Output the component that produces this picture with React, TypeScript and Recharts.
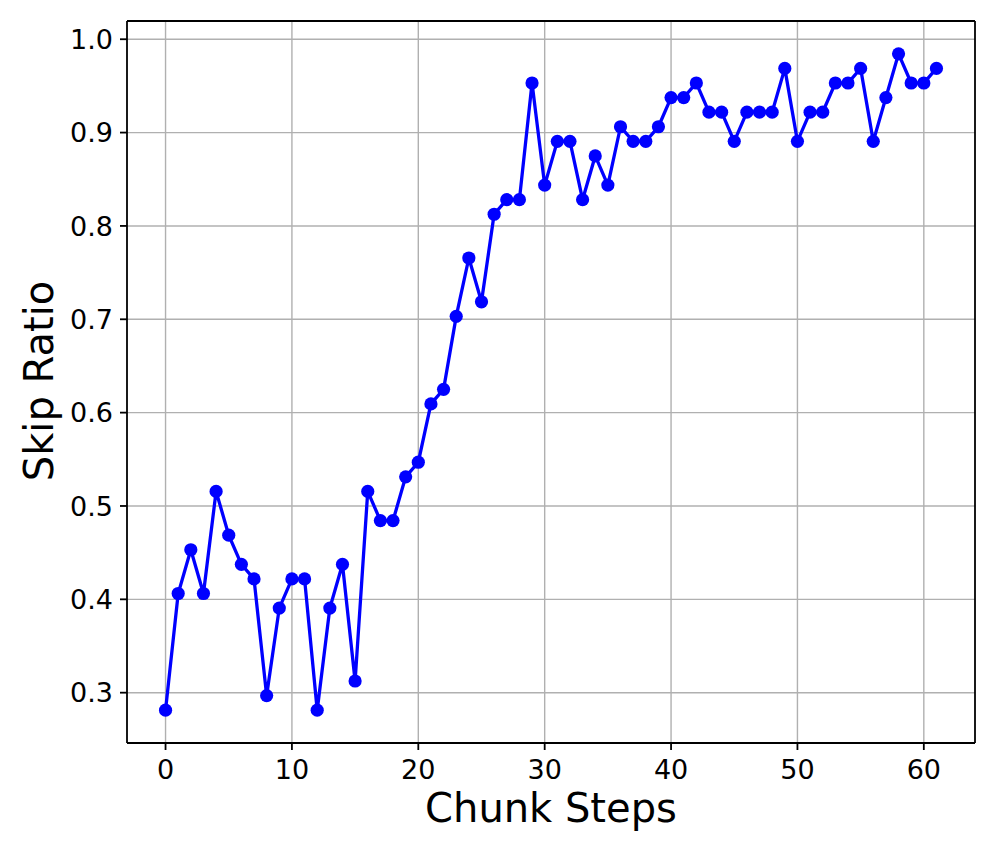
import React from "react";
import {
  LineChart,
  Line,
  XAxis,
  YAxis,
  CartesianGrid,
  ReferenceLine,
} from "recharts";

const steps: number[] = Array.from({ length: 62 }, (_, i) => i);
const skipRatio: number[] = [
  0.28125, 0.40625, 0.453125, 0.40625, 0.515625, 0.46875, 0.4375, 0.421875,
  0.296875, 0.390625, 0.421875, 0.421875, 0.28125, 0.390625, 0.4375, 0.3125,
  0.515625, 0.484375, 0.484375, 0.53125, 0.546875, 0.609375, 0.625, 0.703125,
  0.765625, 0.71875, 0.8125, 0.828125, 0.828125, 0.953125, 0.84375, 0.890625,
  0.890625, 0.828125, 0.875, 0.84375, 0.90625, 0.890625, 0.890625, 0.90625,
  0.9375, 0.9375, 0.953125, 0.921875, 0.921875, 0.890625, 0.921875, 0.921875,
  0.921875, 0.96875, 0.890625, 0.921875, 0.921875, 0.953125, 0.953125,
  0.96875, 0.890625, 0.9375, 0.984375, 0.953125, 0.953125, 0.96875,
];
const xTicks: number[] = [0, 10, 20, 30, 40, 50, 60];
const yTicks: number[] = [0.3, 0.4, 0.5, 0.6, 0.7, 0.8, 0.9, 1.0];
const xLabel = "Chunk Steps";
const yLabel = "Skip Ratio";

const xDomain: [number, number] = [-3.05, 64.05];
const yDomain: [number, number] = [0.24609375, 1.01953125];

const data = steps.map((s, i) => ({ step: s, ratio: skipRatio[i] }));

const FONT = "DejaVu Sans";

const XTick = (props: any) => {
  const { x, payload } = props;
  return (
    <text
      x={x}
      y={779}
      textAnchor="middle"
      fontFamily={FONT}
      fontSize={27}
      fill="#000"
    >
      {payload.value}
    </text>
  );
};

const YTick = (props: any) => {
  const { y, payload } = props;
  return (
    <text
      x={113}
      y={y + 9.6}
      textAnchor="end"
      fontFamily={FONT}
      fontSize={27}
      fill="#000"
    >
      {Number(payload.value).toFixed(1)}
    </text>
  );
};

export default function App() {
  return (
    <div style={{ position: "absolute", left: 0, top: 0, background: "#fff" }}>
      <LineChart
        width={997}
        height={854}
        data={data}
        margin={{ top: 21, right: 22, left: 0, bottom: 0 }}
      >
        <CartesianGrid
          stroke="#b0b0b0"
          strokeWidth={1.4}
          horizontalValues={yTicks}
          verticalValues={xTicks}
        />
        <XAxis
          dataKey="step"
          type="number"
          domain={xDomain}
          ticks={xTicks}
          allowDataOverflow
          height={111}
          tick={<XTick />}
          tickLine={{ stroke: "#000", strokeWidth: 1.8 }}
          tickSize={7}
          axisLine={{ stroke: "#000", strokeWidth: 1.8 }}
          label={{
            value: xLabel,
            content: () => (
              <text
                x={551}
                y={822}
                textAnchor="middle"
                fontFamily={FONT}
                fontSize={40}
                fill="#000"
              >
                {xLabel}
              </text>
            ),
          }}
        />
        <YAxis
          type="number"
          domain={yDomain}
          ticks={yTicks}
          allowDataOverflow
          width={127}
          tick={<YTick />}
          tickLine={{ stroke: "#000", strokeWidth: 1.8 }}
          tickSize={7}
          axisLine={{ stroke: "#000", strokeWidth: 1.8 }}
          label={{
            value: yLabel,
            content: () => (
              <text
                x={53}
                y={381}
                transform="rotate(-90, 53, 381)"
                textAnchor="middle"
                fontFamily={FONT}
                fontSize={40}
                fill="#000"
              >
                {yLabel}
              </text>
            ),
          }}
        />
        <ReferenceLine x={xDomain[1]} stroke="#000" strokeWidth={1.8} />
        <ReferenceLine y={yDomain[1]} stroke="#000" strokeWidth={1.8} />
        <Line
          type="linear"
          dataKey="ratio"
          stroke="#0000ff"
          strokeWidth={3.3}
          dot={{ r: 6.6, fill: "#0000ff", stroke: "#0000ff", strokeWidth: 0 }}
          activeDot={false}
          isAnimationActive={false}
        />
      </LineChart>
    </div>
  );
}
